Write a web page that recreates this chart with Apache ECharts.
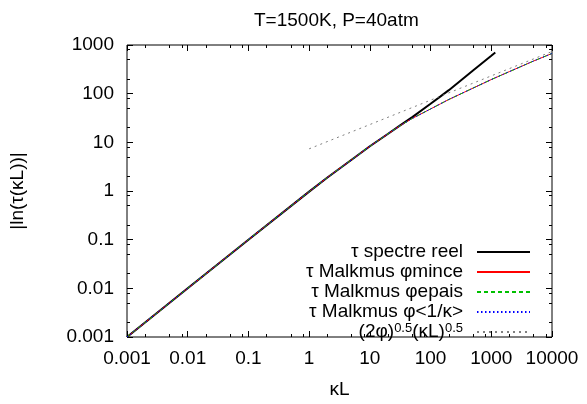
<!DOCTYPE html>
<html><head><meta charset="utf-8">
<script src="https://cdn.jsdelivr.net/npm/echarts@6/dist/echarts.min.js"></script>
<style>html,body{margin:0;padding:0;background:#fff}#c{width:587px;height:404px}</style>
</head><body><div id="c"></div>
<script>
// ---- data ----
const xTickValues = [0.001, 0.01, 0.1, 1, 10, 100, 1000, 10000];
const xTickLabels = ['0.001', '0.01', '0.1', '1', '10', '100', '1000', '10000'];
const yTickValues = [0.001, 0.01, 0.1, 1, 10, 100, 1000];
const yTickLabels = ['0.001', '0.01', '0.1', '1', '10', '100', '1000'];
const minorMultipliers = [2, 5, 8];

const seriesNames = ['τ spectre reel', 'τ Malkmus φmince', 'τ Malkmus φepais', 'τ Malkmus φ<1/κ>', '(2φ)^0.5(κL)^0.5'];

const spectreX = [0.001, 0.01, 0.1, 1, 2, 5, 10, 20, 32, 50, 100, 146, 200, 500, 1000, 1164];
const spectreY = [0.001, 0.01, 0.1, 0.97, 1.9, 4.4, 8.3, 15, 22.5, 33, 62, 88, 118, 300, 600, 702];

const malkmusX      = [0.001, 0.01, 0.1, 1, 2, 5, 10, 20, 32, 50, 100, 146, 200, 500, 1000, 2000, 5000, 10000];
const malkmusMinceY = [0.001, 0.01, 0.1, 0.97, 1.9, 4.4, 8.3, 15, 22.3, 31, 48.5, 62, 76, 130, 195, 285, 470, 670];
const malkmusEpaisY = [0.001, 0.01, 0.1, 0.97, 1.9, 4.4, 8.3, 15, 22.3, 31, 48.5, 62, 76, 130, 195, 285, 470, 670];
const malkmusInvY   = [0.001, 0.01, 0.1, 0.97, 1.9, 4.4, 8.3, 15, 22.3, 31, 48.5, 62, 76, 130, 195, 285, 470, 670];

const asymX = [1, 10, 100, 1000, 10000];
const asymY = [7.35, 23.2, 73.5, 232, 735];

// ---- build ----
function pairs(xs, ys) { return xs.map((x, i) => [x, ys[i]]); }
function minors(majors) {
  const out = [];
  for (let i = 0; i < majors.length - 1; i++) minorMultipliers.forEach(m => out.push(majors[i] * m));
  return out;
}
const xMinor = minors(xTickValues);
const yMinor = minors(yTickValues);

const FONT = 'Liberation Sans';
const FS = 19;

function xAx(pos, custom, len, withLabel) {
  const a = {
    type: 'log', logBase: 10, min: 0.001, max: 10000, position: pos,
    axisLine: { show: false },
    splitLine: { show: false },
    axisTick: { show: true, inside: true, length: len, customValues: custom, lineStyle: { color: '#000', width: 1 } },
    axisLabel: { show: false }
  };
  if (withLabel) {
    a.axisLabel = {
      show: true, customValues: xTickValues, margin: 12,
      fontFamily: FONT, fontSize: FS, color: '#000',
      formatter: v => xTickLabels[xTickValues.findIndex(t => Math.abs(Math.log10(t) - Math.log10(v)) < 1e-6)]
    };
    a.name = 'κL';
    a.nameLocation = 'middle';
    a.nameGap = 43;
    a.nameTextStyle = { fontFamily: FONT, fontSize: FS, color: '#000' };
  }
  return a;
}
function yAx(pos, custom, len, withLabel) {
  const a = {
    type: 'log', logBase: 10, min: 0.001, max: 1000, position: pos,
    axisLine: { show: false },
    splitLine: { show: false },
    axisTick: { show: true, inside: true, length: len, customValues: custom, lineStyle: { color: '#000', width: 1 } },
    axisLabel: { show: false }
  };
  if (withLabel) {
    a.axisLabel = {
      show: true, customValues: yTickValues, margin: 13,
      fontFamily: FONT, fontSize: FS, color: '#000',
      formatter: v => yTickLabels[yTickValues.findIndex(t => Math.abs(Math.log10(t) - Math.log10(v)) < 1e-6)]
    };
    a.name = '|ln(τ(κL))|';
    a.nameLocation = 'middle';
    a.nameRotate = 90;
    a.nameGap = 100;
    a.nameTextStyle = { fontFamily: FONT, fontSize: FS, color: '#000' };
  }
  return a;
}

const chart = echarts.init(document.getElementById('c'), null, { renderer: 'canvas' });
chart.setOption({
  animation: false,
  backgroundColor: '#fff',
  title: {
    text: 'T=1500K, P=40atm', left: 249, top: 6,
    textStyle: { fontFamily: FONT, fontSize: FS, fontWeight: 'normal', color: '#000' }
  },
  grid: { left: 125, right: 35, top: 45, bottom: 60, show: true, borderColor: '#000', borderWidth: 1, backgroundColor: 'transparent' },
  xAxis: [
    xAx('bottom', xTickValues, 6, true),
    xAx('bottom', xMinor, 3, false),
    xAx('top', xTickValues, 6, false),
    xAx('top', xMinor, 3, false)
  ],
  yAxis: [
    yAx('left', yTickValues, 6, true),
    yAx('left', yMinor, 3, false),
    yAx('right', yTickValues, 6, false),
    yAx('right', yMinor, 3, false)
  ],
  legend: {
    orient: 'vertical', left: 278, top: 237, align: 'right',
    itemWidth: 53, itemHeight: 14, itemGap: 0, selectedMode: false,
    itemStyle: { opacity: 0 },
    data: seriesNames,
    formatter: name => {
      if (name === seriesNames[4]) return '{m|(2φ)}{s|0.5}{m|(κL)}{s|0.5}';
      return '{m|' + name + '}';
    },
    textStyle: {
      width: 180, padding: [0, 9, 0, 0], lineHeight: 20,
      fontFamily: FONT, fontSize: FS, color: '#000',
      rich: {
        m: { align: 'right', fontFamily: FONT, fontSize: FS, color: '#000', lineHeight: 20 },
        s: { align: 'right', fontFamily: FONT, fontSize: 13, color: '#000', verticalAlign: 'top', lineHeight: 12 }
      }
    }
  },
  series: [
    { name: seriesNames[0], type: 'line', data: pairs(spectreX, spectreY), symbol: 'none', smooth: false,
      lineStyle: { color: '#000', width: 2 }, itemStyle: { color: '#000' } },
    { name: seriesNames[1], type: 'line', data: pairs(malkmusX, malkmusMinceY), symbol: 'none',
      lineStyle: { color: '#ff0000', width: 1 }, itemStyle: { color: '#ff0000' } },
    { name: seriesNames[2], type: 'line', data: pairs(malkmusX, malkmusEpaisY), symbol: 'none',
      lineStyle: { color: '#00c000', width: 1, type: [4, 3] }, itemStyle: { color: '#00c000' } },
    { name: seriesNames[3], type: 'line', data: pairs(malkmusX, malkmusInvY), symbol: 'none',
      lineStyle: { color: '#0000ff', width: 1, type: [1.5, 2.5] }, itemStyle: { color: '#0000ff' } },
    { name: seriesNames[4], type: 'line', data: pairs(asymX, asymY), symbol: 'none',
      lineStyle: { color: '#808080', width: 1, type: [2, 4] }, itemStyle: { color: '#808080' } }
  ]
});
</script>
</body></html>
